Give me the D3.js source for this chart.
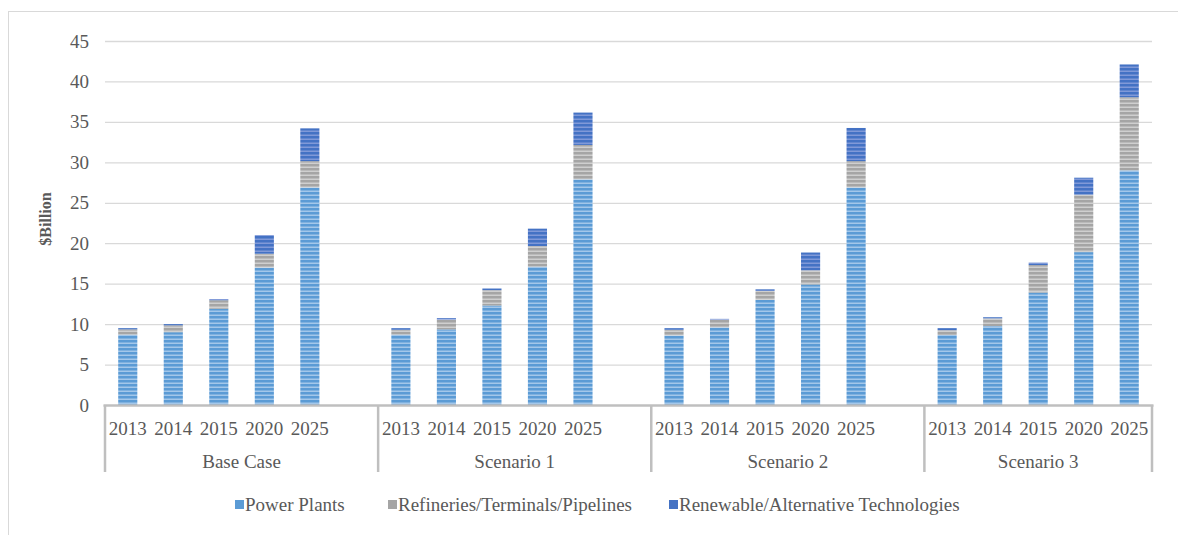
<!DOCTYPE html>
<html>
<head>
<meta charset="utf-8">
<script src="https://cdn.jsdelivr.net/npm/d3@7"></script>
<style>
  html, body { margin: 0; padding: 0; background: #fff; }
  svg { display: block; }
  text { font-family: "Liberation Serif", "Times New Roman", serif; }
</style>
</head>
<body>
<svg id="chart" width="1178" height="535"></svg>
<script>
// Investment by scenario, $ billion
const groups = ["Base Case", "Scenario 1", "Scenario 2", "Scenario 3"];
const years = ["2013", "2014", "2015", "2020", "2025"];
const seriesNames = ["Power Plants", "Refineries/Terminals/Pipelines", "Renewable/Alternative Technologies"];

// values per group, in year order
const powerPlants = [
  [8.7, 9.0, 11.9, 17.0, 26.9],
  [8.7, 9.35, 12.3, 17.1, 27.9],
  [8.6, 9.6, 13.0, 14.9, 26.9],
  [8.65, 9.75, 13.9, 18.9, 29.0]
];
const refineries = [
  [0.65, 0.85, 1.05, 1.7, 3.25],
  [0.6, 1.2, 1.9, 2.55, 4.25],
  [0.7, 0.95, 1.1, 1.75, 3.25],
  [0.6, 0.95, 3.4, 7.1, 9.05]
];
const renewables = [
  [0.15, 0.15, 0.15, 2.3, 4.05],
  [0.2, 0.2, 0.2, 2.15, 4.0],
  [0.2, 0.1, 0.2, 2.2, 4.1],
  [0.25, 0.15, 0.3, 2.1, 4.05]
];
const yTicks = [0, 5, 10, 15, 20, 25, 30, 35, 40, 45];

const colors = ["#5b9bd5", "#a5a5a5", "#4472c4"];
const stripeColors = ["#a3c7ea", "#cfcfcf", "#8099d8"];

const svg = d3.select("#chart");
const W = 1178, H = 535;
const plotLeft = 105, plotRight = 1152, plotTop = 41, plotBottom = 405;
const fontSize = 19;

// frame
svg.append("rect").attr("x", 8.5).attr("y", 11.5).attr("width", W + 10).attr("height", H + 10)
  .attr("fill", "none").attr("stroke", "#d9d9d9").attr("stroke-width", 1);

// striped fills
const defs = svg.append("defs");
colors.forEach((c, i) => {
  const p = defs.append("pattern").attr("id", "stripe" + i)
    .attr("patternUnits", "userSpaceOnUse").attr("width", 8).attr("height", 4);
  p.append("rect").attr("width", 8).attr("height", 4).attr("fill", c);
  p.append("rect").attr("y", 2.5).attr("width", 8).attr("height", 1.5).attr("fill", stripeColors[i]);
});

// category slots: each group is followed by an empty slot except the last
const slots = [];
groups.forEach((g, gi) => {
  years.forEach(y => slots.push(g + "|" + y));
  if (gi < groups.length - 1) slots.push(g + "|gap");
});

const x = d3.scaleBand().domain(slots).range([plotLeft, plotRight]).paddingInner(0.58).paddingOuter(0.29);
const y = d3.scaleLinear().domain([0, 45]).range([plotBottom, plotTop]);

// gridlines
svg.append("g").selectAll("line").data(yTicks.filter(t => t > 0)).join("line")
  .attr("x1", plotLeft).attr("x2", plotRight)
  .attr("y1", d => y(d) + 0.5).attr("y2", d => y(d) + 0.5)
  .attr("stroke", "#d9d9d9").attr("stroke-width", 1.3);

// y tick labels
const yAxis = d3.axisLeft(y).tickValues(yTicks).tickSize(0).tickPadding(0);
const ya = svg.append("g").attr("transform", `translate(89,0)`).call(yAxis);
ya.attr("font-family", null);
ya.select(".domain").remove();
ya.selectAll("text").attr("font-size", fontSize).attr("fill", "#595959");

// y title
svg.append("text").attr("transform", "translate(51,219) rotate(-90)")
  .attr("text-anchor", "middle").attr("font-size", 16).attr("font-weight", "bold")
  .attr("fill", "#595959").text("$Billion");

// stacked data
const rows = [];
groups.forEach((g, gi) => {
  years.forEach((yr, yi) => {
    rows.push({ key: g + "|" + yr, pp: powerPlants[gi][yi], rf: refineries[gi][yi], rn: renewables[gi][yi] });
  });
});
const stack = d3.stack().keys(["pp", "rf", "rn"]);
const layers = stack(rows);

svg.append("g").selectAll("g").data(layers).join("g")
  .attr("fill", (d, i) => `url(#stripe${i})`)
  .selectAll("rect").data(d => d).join("rect")
  .attr("x", d => x(d.data.key))
  .attr("width", x.bandwidth())
  .attr("y", d => y(d[1]))
  .attr("height", d => y(d[0]) - y(d[1]));

// category axis
const ax = svg.append("g");
ax.append("line").attr("x1", plotLeft - 1.5).attr("x2", plotRight + 1.5)
  .attr("y1", plotBottom + 0.5).attr("y2", plotBottom + 0.5)
  .attr("stroke", "#bfbfbf").attr("stroke-width", 2.5);

const step = x.step();
const bounds = [0];
groups.forEach((g, gi) => {
  const n = years.length + (gi < groups.length - 1 ? 1 : 0);
  bounds.push(bounds[bounds.length - 1] + n);
});
ax.selectAll(".sep").data(bounds).join("line").attr("class", "sep")
  .attr("x1", d => plotLeft + d * step).attr("x2", d => plotLeft + d * step)
  .attr("y1", plotBottom).attr("y2", 472)
  .attr("stroke", "#bfbfbf").attr("stroke-width", 2.5);

// year labels
ax.selectAll(".yr").data(rows).join("text").attr("class", "yr")
  .attr("x", d => x(d.key) + x.bandwidth() / 2).attr("y", 435)
  .attr("text-anchor", "middle").attr("font-size", fontSize).attr("fill", "#595959")
  .text(d => d.key.split("|")[1]);

// group labels
ax.selectAll(".grp").data(groups).join("text").attr("class", "grp")
  .attr("x", (d, i) => plotLeft + (bounds[i] + bounds[i + 1]) / 2 * step).attr("y", 468)
  .attr("text-anchor", "middle").attr("font-size", fontSize).attr("fill", "#595959")
  .text(d => d);

// legend
const legendX = [235, 388, 669];
const lg = svg.append("g").selectAll("g").data(seriesNames).join("g")
  .attr("transform", (d, i) => `translate(${legendX[i]},0)`);
lg.append("rect").attr("x", 0).attr("y", 500).attr("width", 9).attr("height", 9)
  .attr("fill", (d, i) => colors[i]);
lg.append("text").attr("x", 10).attr("y", 511).attr("font-size", fontSize).attr("fill", "#595959")
  .text(d => d);
</script>
</body>
</html>
